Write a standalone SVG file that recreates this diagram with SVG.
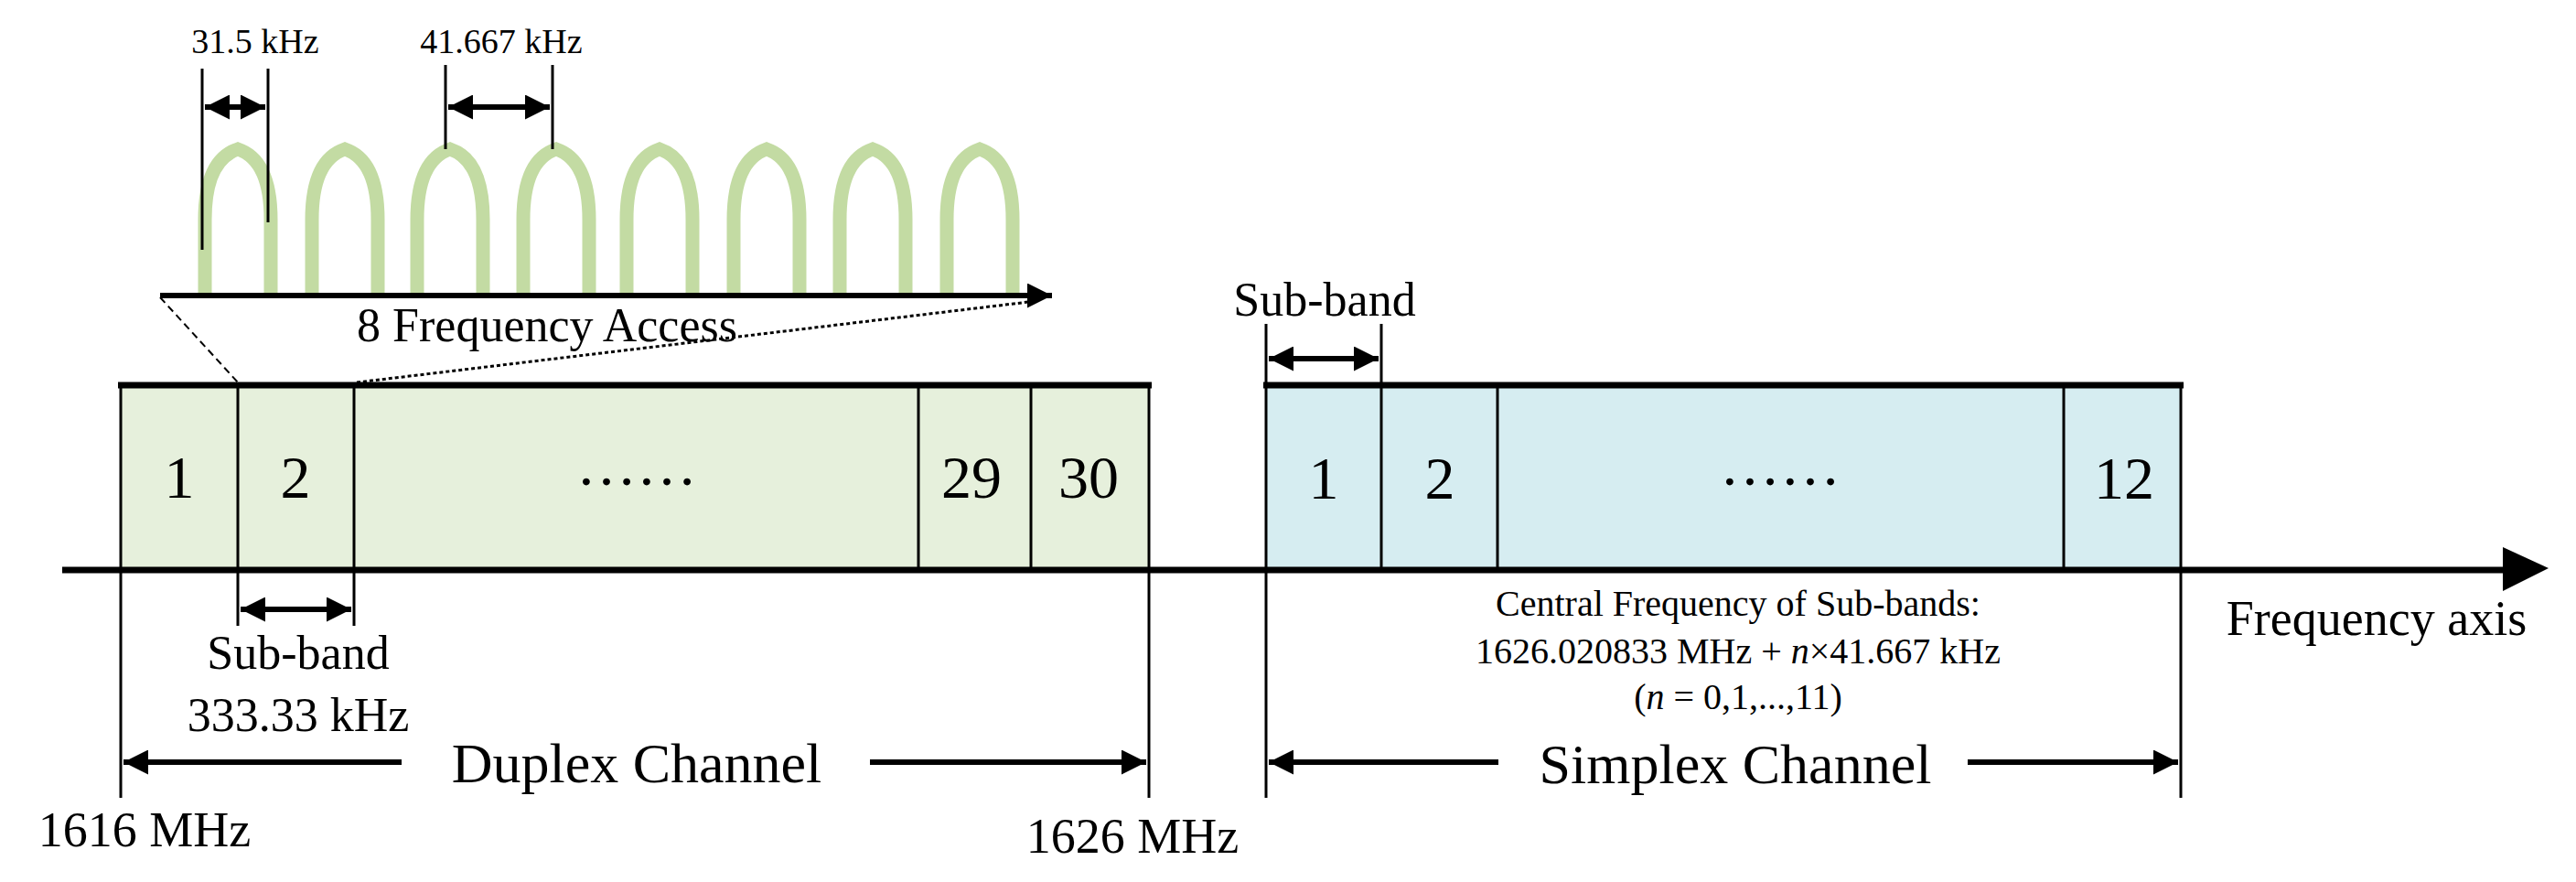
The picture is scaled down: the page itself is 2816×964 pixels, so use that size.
<svg xmlns="http://www.w3.org/2000/svg" width="2816" height="964" viewBox="0 0 2816 964">
<style>
text{font-family:"Liberation Serif","Times New Roman",serif;fill:#000}
.thin{stroke:#000;stroke-width:3;fill:none}
.thick{stroke:#000;stroke-width:7;fill:none}
.arr{stroke:#000;stroke-width:6;fill:none}
.hump{stroke:#c3dba3;stroke-width:15;fill:none}
</style>
<defs>
<marker id="ah" viewBox="0 0 10 10" refX="10" refY="5" markerWidth="4.5" markerHeight="4.5" orient="auto-start-reverse" markerUnits="strokeWidth"><path d="M0,0 L10,5 L0,10 z" fill="#000"/></marker>
</defs>
<rect width="2816" height="964" fill="#fff"/>
<g id="spectrum">
<g id="humps">
<path class="hump" d="M224,325 L224,240 Q224,175 260,163 Q296,175 296,240 L296,325"/>
<path class="hump" d="M341,325 L341,240 Q341,175 377,163 Q413,175 413,240 L413,325"/>
<path class="hump" d="M456,325 L456,240 Q456,175 492,163 Q528,175 528,240 L528,325"/>
<path class="hump" d="M572,325 L572,240 Q572,175 608,163 Q644,175 644,240 L644,325"/>
<path class="hump" d="M685,325 L685,240 Q685,175 721,163 Q757,175 757,240 L757,325"/>
<path class="hump" d="M802,325 L802,240 Q802,175 838,163 Q874,175 874,240 L874,325"/>
<path class="hump" d="M918,325 L918,240 Q918,175 954,163 Q990,175 990,240 L990,325"/>
<path class="hump" d="M1035,325 L1035,240 Q1035,175 1071,163 Q1107,175 1107,240 L1107,325"/>
</g>
<line class="arr" x1="175" y1="323" x2="1150" y2="323" stroke-width="5" marker-end="url(#ah)"/>
<text x="598" y="373" font-size="52" text-anchor="middle">8 Frequency Access</text>
</g>
<g id="dims-top">
<line class="thin" x1="221" y1="75" x2="221" y2="273" stroke-width="2"/>
<line class="thin" x1="293" y1="75" x2="293" y2="243" stroke-width="2"/>
<line class="arr" x1="224" y1="117" x2="290" y2="117" stroke-width="5" marker-start="url(#ah)" marker-end="url(#ah)"/>
<text x="279" y="58" font-size="38" text-anchor="middle">31.5 kHz</text>
<line class="thin" x1="487" y1="71" x2="487" y2="163" stroke-width="2"/>
<line class="thin" x1="604" y1="71" x2="604" y2="163" stroke-width="2"/>
<line class="arr" x1="490" y1="117" x2="601" y2="117" stroke-width="5" marker-start="url(#ah)" marker-end="url(#ah)"/>
<text x="548" y="58" font-size="38" text-anchor="middle">41.667 kHz</text>
</g>
<g id="duplex">
<rect x="132" y="421" width="1124" height="202" fill="#e6f0dc"/>
<line class="thick" x1="129" y1="421" x2="1259" y2="421"/>
<line class="thin" x1="132" y1="421" x2="132" y2="872"/>
<line class="thin" x1="260" y1="421" x2="260" y2="684"/>
<line class="thin" x1="387" y1="421" x2="387" y2="684"/>
<line class="thin" x1="1004" y1="421" x2="1004" y2="623"/>
<line class="thin" x1="1127" y1="421" x2="1127" y2="623"/>
<line class="thin" x1="1256" y1="421" x2="1256" y2="872"/>
<g font-size="66" text-anchor="middle">
<text x="196" y="544">1</text><text x="323" y="544">2</text><text x="696" y="530">……</text><text x="1062" y="544">29</text><text x="1190" y="544">30</text>
</g>
<line class="arr" x1="263" y1="666" x2="384" y2="666" marker-start="url(#ah)" marker-end="url(#ah)"/>
<text x="326" y="731" font-size="52" text-anchor="middle">Sub-band</text>
<text x="326" y="799" font-size="52" text-anchor="middle">333.33 kHz</text>
<line class="arr" x1="135" y1="833" x2="439" y2="833" marker-start="url(#ah)"/>
<line class="arr" x1="951" y1="833" x2="1253" y2="833" marker-end="url(#ah)"/>
<text x="696" y="855" font-size="62" text-anchor="middle">Duplex Channel</text>
<text x="158" y="925" font-size="54" text-anchor="middle">1616 MHz</text>
<text x="1238" y="932" font-size="54" text-anchor="middle">1626 MHz</text>
</g>
<g id="simplex">
<rect x="1384" y="421" width="1000" height="202" fill="#d6edf1"/>
<line class="thick" x1="1381" y1="421" x2="2387" y2="421"/>
<line class="thin" x1="1384" y1="354" x2="1384" y2="872"/>
<line class="thin" x1="1510" y1="354" x2="1510" y2="623"/>
<line class="thin" x1="1637" y1="421" x2="1637" y2="623"/>
<line class="thin" x1="2256" y1="421" x2="2256" y2="623"/>
<line class="thin" x1="2384" y1="421" x2="2384" y2="872"/>
<g font-size="66" text-anchor="middle">
<text x="1447" y="545">1</text><text x="1574" y="545">2</text><text x="1946" y="530">……</text><text x="2322" y="545">12</text>
</g>
<line class="arr" x1="1387" y1="392" x2="1507" y2="392" marker-start="url(#ah)" marker-end="url(#ah)"/>
<text x="1448" y="345" font-size="52" text-anchor="middle">Sub-band</text>
<g font-size="40" text-anchor="middle">
<text x="1900" y="673">Central Frequency of Sub-bands:</text>
<text x="1900" y="725">1626.020833 MHz + <tspan font-style="italic">n</tspan>×41.667 kHz</text>
<text x="1900" y="775">(<tspan font-style="italic">n</tspan> = 0,1,...,11)</text>
</g>
<line class="arr" x1="1387" y1="833" x2="1638" y2="833" marker-start="url(#ah)"/>
<line class="arr" x1="2151" y1="833" x2="2381" y2="833" marker-end="url(#ah)"/>
<text x="1897" y="856" font-size="62" text-anchor="middle">Simplex Channel</text>
</g>
<g id="connectors">
<line class="thick" x1="68" y1="623" x2="2740" y2="623"/>
<path d="M2736,598 L2786,621 L2736,646 z" fill="#000"/>
<text x="2598" y="694" font-size="54" text-anchor="middle">Frequency axis</text>
<line x1="175" y1="325" x2="261" y2="419" stroke="#000" stroke-width="2" stroke-dasharray="8,5"/>
<line x1="390" y1="418" x2="1133" y2="329" stroke="#000" stroke-width="3" stroke-dasharray="4,3"/>
</g>
</svg>
